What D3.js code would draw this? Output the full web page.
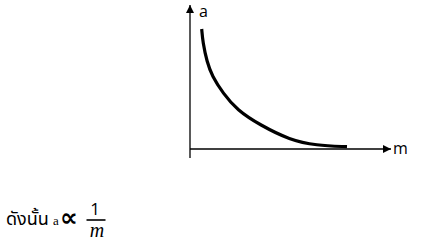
<!DOCTYPE html>
<html>
<head>
<meta charset="utf-8">
<script src="https://cdn.jsdelivr.net/npm/d3@7"></script>
<style>
  body { margin: 0; background: #fff; }
  svg { display: block; }
</style>
</head>
<body>
<svg width="427" height="251"></svg>
<script>
// curve (arbitrary units, m along x, a along y)
var mValues = [0.585, 0.64, 0.85, 1.1, 1.65, 2.35, 3.5, 5.0, 6.3, 7.85];
var aValues = [10.0, 8.9, 7.25, 6.1, 4.65, 3.25, 2.0, 0.75, 0.3, 0.19];
var xLabel = "m";
var yLabel = "a";
var captionThai = "ดังนั้น";
var captionVar = "a";
var captionSym = "∝";
var fracTop = "1";
var fracBottom = "m";

var data = mValues.map(function (m, i) { return [m, aValues[i]]; });

var svg = d3.select("svg");

svg.append("rect")
  .attr("width", 427)
  .attr("height", 251)
  .attr("fill", "white");

var xScale = d3.scaleLinear().domain([0, 10]).range([190, 390]),
  yScale = d3.scaleLinear().domain([0, 10]).range([149, 29]);

// arrow heads
var defs = svg.append("defs");
defs.append("marker")
  .attr("id", "arrow")
  .attr("markerUnits", "userSpaceOnUse")
  .attr("markerWidth", 9)
  .attr("markerHeight", 9)
  .attr("refX", 8)
  .attr("refY", 4)
  .attr("orient", "auto")
  .append("path")
  .attr("d", "M0,0L8,4L0,8Z")
  .attr("fill", "black");

// y axis
svg.append("line")
  .attr("x1", xScale(0))
  .attr("x2", xScale(0))
  .attr("y1", yScale(-0.75))
  .attr("y2", yScale(12))
  .attr("stroke", "black")
  .attr("stroke-width", 1.3)
  .attr("marker-end", "url(#arrow)");

// x axis
svg.append("line")
  .attr("x1", xScale(0))
  .attr("x2", xScale(10.05))
  .attr("y1", yScale(0))
  .attr("y2", yScale(0))
  .attr("stroke", "black")
  .attr("stroke-width", 1.3)
  .attr("marker-end", "url(#arrow)");

svg.append("text")
  .attr("x", xScale(0) + 9)
  .attr("y", 17)
  .style("font-family", "'Open Sans', sans-serif")
  .style("font-size", "16px")
  .text(yLabel);

svg.append("text")
  .attr("x", xScale(10.05) + 2)
  .attr("y", yScale(0) + 5)
  .style("font-family", "'Open Sans', sans-serif")
  .style("font-size", "16px")
  .text(xLabel);

var line = d3.line()
  .x(function (d) { return xScale(d[0]); })
  .y(function (d) { return yScale(d[1]); })
  .curve(d3.curveBasis);

svg.append("path")
  .datum(data)
  .attr("d", line)
  .style("fill", "none")
  .style("stroke", "black")
  .style("stroke-width", 3.2);

// caption: ดังนั้น a ∝ 1/m
svg.append("text")
  .attr("x", 6)
  .attr("y", 225)
  .style("font-family", "'Noto Sans', 'Noto Sans Thai', Tahoma, sans-serif")
  .style("font-size", "18px")
  .text(captionThai);

svg.append("text")
  .attr("x", 53)
  .attr("y", 225)
  .style("font-family", "'Liberation Serif', serif")
  .style("font-size", "13px")
  .text(captionVar);

svg.append("text")
  .attr("x", 60)
  .attr("y", 226)
  .style("font-family", "'DejaVu Sans', sans-serif")
  .style("font-weight", "bold")
  .style("font-size", "25px")
  .text(captionSym);

svg.append("text")
  .attr("x", 95)
  .attr("y", 215)
  .attr("text-anchor", "middle")
  .style("font-family", "'Open Sans', sans-serif")
  .style("font-size", "17px")
  .text(fracTop);

svg.append("line")
  .attr("x1", 86.5)
  .attr("x2", 105.5)
  .attr("y1", 220)
  .attr("y2", 220)
  .attr("stroke", "black")
  .attr("stroke-width", 1.6);

svg.append("text")
  .attr("x", 97)
  .attr("y", 237)
  .attr("text-anchor", "middle")
  .style("font-family", "'Liberation Serif', serif")
  .style("font-style", "italic")
  .style("font-size", "20px")
  .text(fracBottom);
</script>
</body>
</html>
